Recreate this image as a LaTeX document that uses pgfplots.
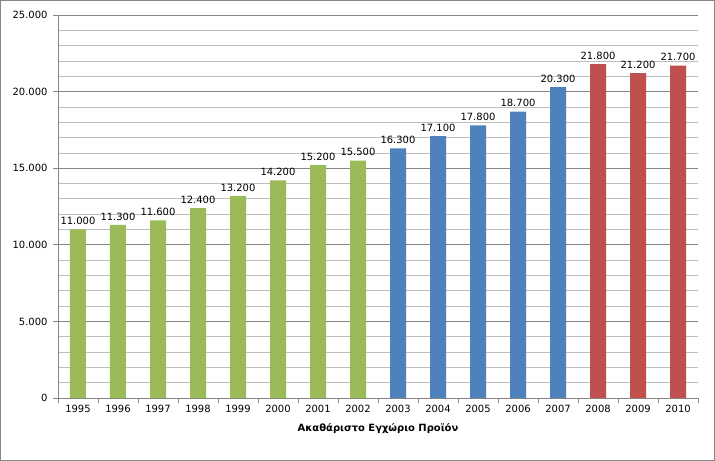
\documentclass[border=0pt]{standalone}
\usepackage{fontspec}
\setmainfont{DejaVu Sans}
\usepackage{pgfplots}
\pgfplotsset{compat=1.18}
\definecolor{cgreen}{RGB}{155,187,89}
\definecolor{cblue}{RGB}{79,129,189}
\definecolor{cred}{RGB}{192,80,77}
\definecolor{frame}{RGB}{134,134,134}
\definecolor{majgrid}{RGB}{134,134,134}
\definecolor{mingrid}{RGB}{190,190,190}
\begin{document}
\begin{tikzpicture}[x=1bp,y=1bp]
\draw[frame, line width=1bp] (-57.5bp,-62.5bp) rectangle (656.5bp,397.5bp);
\begin{axis}[
  at={(0,0)}, anchor=south west,
  scale only axis, width=640bp, height=383bp,
  xmin=-0.5, xmax=15.5, ymin=0, ymax=25000,
  axis x line=bottom, axis y line=left,
  axis line style={-, majgrid, line width=0.8bp},
  ybar, bar width=16bp,
  ytick={0,5000,...,25000},
  minor y tick num=4,
  ymajorgrids, yminorgrids,
  major grid style={majgrid, line width=0.8bp},
  minor grid style={mingrid, line width=0.7bp},
  tick align=outside,
  major tick length=5bp, minor tick length=0pt,
  tick style={majgrid, line width=0.8bp},
  xtick={-0.5,0.5,...,15.5},
  xticklabels={},
  extra x ticks={0,...,15},
  extra x tick labels={1995,1996,1997,1998,1999,2000,2001,2002,2003,2004,2005,2006,2007,2008,2009,2010},
  extra x tick style={major tick length=0pt, grid=none},
  /pgf/number format/assume math mode=true,
  /pgf/number format/.cd, fixed, precision=0, 1000 sep={.},
  /pgfplots/.cd,
  scaled y ticks=false,
  ticklabel style={font=\fontsize{10}{12}\selectfont, black},
  yticklabel style={xshift=-2bp},
  xticklabel style={yshift=-4bp},
  xlabel={\bfseries Ακαθάριστο Εγχώριο Προϊόν},
  xlabel style={font=\fontsize{10}{12}\selectfont, yshift=1bp},
  nodes near coords,
  every node near coord/.append style={font=\fontsize{10}{12}\selectfont, black, yshift=1bp},
]
\addplot[fill=cgreen, draw=none, bar shift=0pt] coordinates {(0,11000) (1,11300) (2,11600) (3,12400) (4,13200) (5,14200) (6,15200) (7,15500)};
\addplot[fill=cblue, draw=none, bar shift=0pt] coordinates {(8,16300) (9,17100) (10,17800) (11,18700) (12,20300)};
\addplot[fill=cred, draw=none, bar shift=0pt] coordinates {(13,21800) (14,21200) (15,21700)};
\end{axis}
\end{tikzpicture}
\end{document}
